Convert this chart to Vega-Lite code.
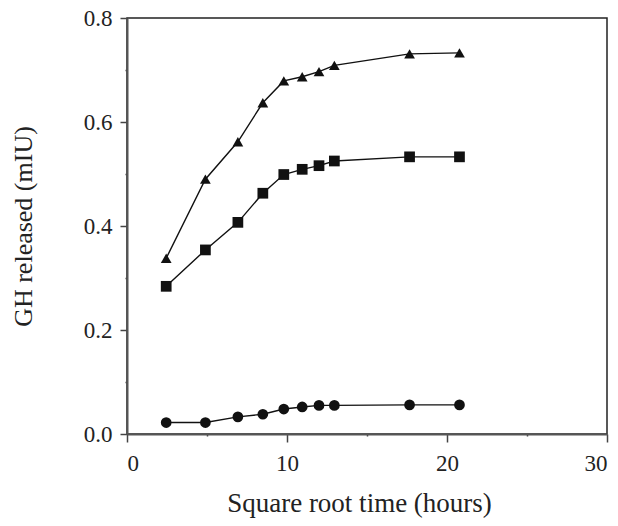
{
  "$schema": "https://vega.github.io/schema/vega-lite/v6.json",
  "width": 480,
  "height": 416,
  "autosize": "none",
  "padding": {"left": 127, "top": 18, "right": 11, "bottom": 92},
  "background": "white",
  "config": {
    "view": {"stroke": "#222", "strokeWidth": 1.5},
    "font": "Liberation Serif",
    "axis": {
      "grid": false,
      "domainColor": "#555",
      "domainWidth": 2,
      "tickColor": "#444",
      "tickWidth": 1.5,
      "labelFont": "Liberation Serif",
      "labelFontSize": 23,
      "labelColor": "#222",
      "titleFont": "Liberation Serif",
      "titleFontWeight": "normal",
      "titleColor": "#222"
    }
  },
  "data": {
    "values": [
      {"series": "triangle", "x": 2.45, "y": 0.338},
      {"series": "triangle", "x": 4.9, "y": 0.49},
      {"series": "triangle", "x": 6.93, "y": 0.562},
      {"series": "triangle", "x": 8.49, "y": 0.637},
      {"series": "triangle", "x": 9.8, "y": 0.679},
      {"series": "triangle", "x": 10.95, "y": 0.687},
      {"series": "triangle", "x": 12.0, "y": 0.697},
      {"series": "triangle", "x": 12.96, "y": 0.709},
      {"series": "triangle", "x": 17.66, "y": 0.731},
      {"series": "triangle", "x": 20.78, "y": 0.733},
      {"series": "square", "x": 2.45, "y": 0.284},
      {"series": "square", "x": 4.9, "y": 0.354},
      {"series": "square", "x": 6.93, "y": 0.407},
      {"series": "square", "x": 8.49, "y": 0.463},
      {"series": "square", "x": 9.8, "y": 0.499},
      {"series": "square", "x": 10.95, "y": 0.509},
      {"series": "square", "x": 12.0, "y": 0.516},
      {"series": "square", "x": 12.96, "y": 0.525},
      {"series": "square", "x": 17.66, "y": 0.533},
      {"series": "square", "x": 20.78, "y": 0.533},
      {"series": "circle", "x": 2.45, "y": 0.022},
      {"series": "circle", "x": 4.9, "y": 0.022},
      {"series": "circle", "x": 6.93, "y": 0.033},
      {"series": "circle", "x": 8.49, "y": 0.038},
      {"series": "circle", "x": 9.8, "y": 0.048},
      {"series": "circle", "x": 10.95, "y": 0.052},
      {"series": "circle", "x": 12.0, "y": 0.055},
      {"series": "circle", "x": 12.96, "y": 0.055},
      {"series": "circle", "x": 17.66, "y": 0.056},
      {"series": "circle", "x": 20.78, "y": 0.056}
    ]
  },
  "encoding": {
    "x": {
      "field": "x",
      "type": "quantitative",
      "scale": {"domain": [0, 30], "nice": false},
      "axis": {
        "title": "Square root time (hours)",
        "titleFontSize": 27,
        "titleX": 232,
        "values": [0, 5, 10, 15, 20, 25, 30],
        "labelExpr": "datum.value % 10 == 0 ? format(datum.value, 'd') : ''",
        "tickSize": {"expr": "datum.value % 10 == 0 ? 8 : 2"},
        "labelPadding": 10,
        "titlePadding": 15
      }
    },
    "y": {
      "field": "y",
      "type": "quantitative",
      "scale": {"domain": [0, 0.8], "nice": false},
      "axis": {
        "title": "GH released (mIU)",
        "titleFontSize": 26,
        "values": [0, 0.1, 0.2, 0.3, 0.4, 0.5, 0.6, 0.7, 0.8],
        "labelExpr": "round(datum.value * 10) % 2 == 0 ? format(datum.value, '.1f') : ''",
        "tickSize": {"expr": "round(datum.value * 10) % 2 == 0 ? 7 : 2"},
        "labelPadding": 8,
        "titlePadding": 47
      }
    }
  },
  "layer": [
    {
      "mark": {"type": "line", "color": "#111", "strokeWidth": 1.4},
      "encoding": {"detail": {"field": "series"}}
    },
    {
      "mark": {"type": "point", "filled": true, "opacity": 1, "color": "#111"},
      "encoding": {
        "shape": {
          "field": "series",
          "type": "nominal",
          "scale": {"domain": ["triangle", "square", "circle"], "range": ["triangle-up", "square", "circle"]},
          "legend": null
        },
        "size": {"value": 115}
      }
    }
  ]
}
